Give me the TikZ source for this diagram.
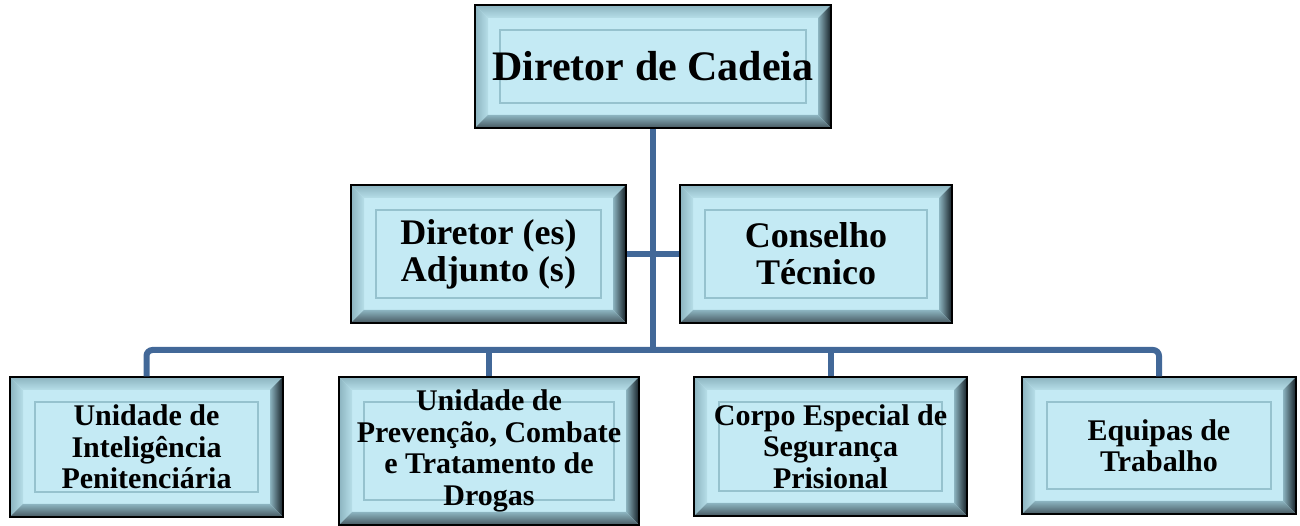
\documentclass[tikz,border=0pt]{standalone}
\usepackage{fontspec}
\setmainfont{Liberation Serif}
\usetikzlibrary{calc}

\definecolor{face}{RGB}{196,234,244}
\definecolor{bevlight}{RGB}{182,222,232}
\definecolor{bevmid}{RGB}{140,180,192}
\definecolor{bevdark}{RGB}{22,32,38}
\definecolor{bevlow}{RGB}{70,88,96}
\definecolor{rimline}{RGB}{150,194,206}
\definecolor{linkblue}{RGB}{66,104,152}

\tikzset{
  orgbox/.style={draw=black, line width=1.2pt, fill=face, align=center, inner sep=0pt,
    font=\bfseries\fontsize{30}{31.5}\selectfont,
    path picture={
      \coordinate (sw) at (path picture bounding box.south west);
      \coordinate (ne) at (path picture bounding box.north east);
      % bevel faces
      \shade[top color=bevmid, bottom color=bevlight] (sw |- ne) -- (ne) -- ($(ne)+(-13pt,-13pt)$) -- ($(sw |- ne)+(13pt,-13pt)$) -- cycle;
      \shade[left color=bevmid, right color=bevlight] (sw) -- (sw |- ne) -- ($(sw |- ne)+(13pt,-13pt)$) -- ($(sw)+(13pt,13pt)$) -- cycle;
      \shade[left color=bevmid, right color=bevdark] (ne) -- (ne |- sw) -- ($(ne |- sw)+(-13pt,13pt)$) -- ($(ne)+(-13pt,-13pt)$) -- cycle;
      \shade[top color=bevmid, bottom color=bevlow] (sw) -- (ne |- sw) -- ($(ne |- sw)+(-13pt,13pt)$) -- ($(sw)+(13pt,13pt)$) -- cycle;
      % inner rim
      \draw[rimline, line width=1.2pt] ($(sw)+(25pt,25pt)$) rectangle ($(ne)+(-25pt,-25pt)$);
    }},
  link/.style={draw=linkblue, line width=6pt}
}

\begin{document}
\begin{tikzpicture}[x=1pt,y=1pt]
\useasboundingbox (0,0) rectangle (1300,526);

\node[orgbox, minimum width=356pt, minimum height=123pt, font=\bfseries\fontsize{42}{44}\selectfont] (dir) at (653,459.5) {Diretor de Cadeia};

\node[orgbox, minimum width=275pt, minimum height=138pt, font=\bfseries\fontsize{36}{37}\selectfont] (adj) at (488.5,272) {Diretor (es)\\Adjunto (s)};
\node[orgbox, minimum width=272pt, minimum height=138pt, font=\bfseries\fontsize{36}{37}\selectfont] (cons) at (816,272) {Conselho\\Técnico};

\node[orgbox, minimum width=273pt, minimum height=140pt] (uip) at (146.5,79) {Unidade de\\Inteligência\\Penitenciária};
\node[orgbox, minimum width=300pt, minimum height=148pt] (upc) at (489,75) {Unidade de\\Prevenção, Combate\\e Tratamento de\\Drogas};
\node[orgbox, minimum width=273pt, minimum height=139pt] (cesp) at (830.5,79.5) {Corpo Especial de\\Segurança\\Prisional};
\node[orgbox, minimum width=274pt, minimum height=137pt] (eqt) at (1159,80.5) {Equipas de\\Trabalho};

\coordinate (bus) at (653,176);

\draw[link] (dir.south) -- (bus);
\draw[link] (adj.east) -- (cons.west);
\draw[link, rounded corners=6pt] (uip.north) |- (bus) -| (eqt.north);
\draw[link] (upc.north) -- (upc.north |- bus);
\draw[link] (cesp.north) -- (cesp.north |- bus);
\end{tikzpicture}
\end{document}
